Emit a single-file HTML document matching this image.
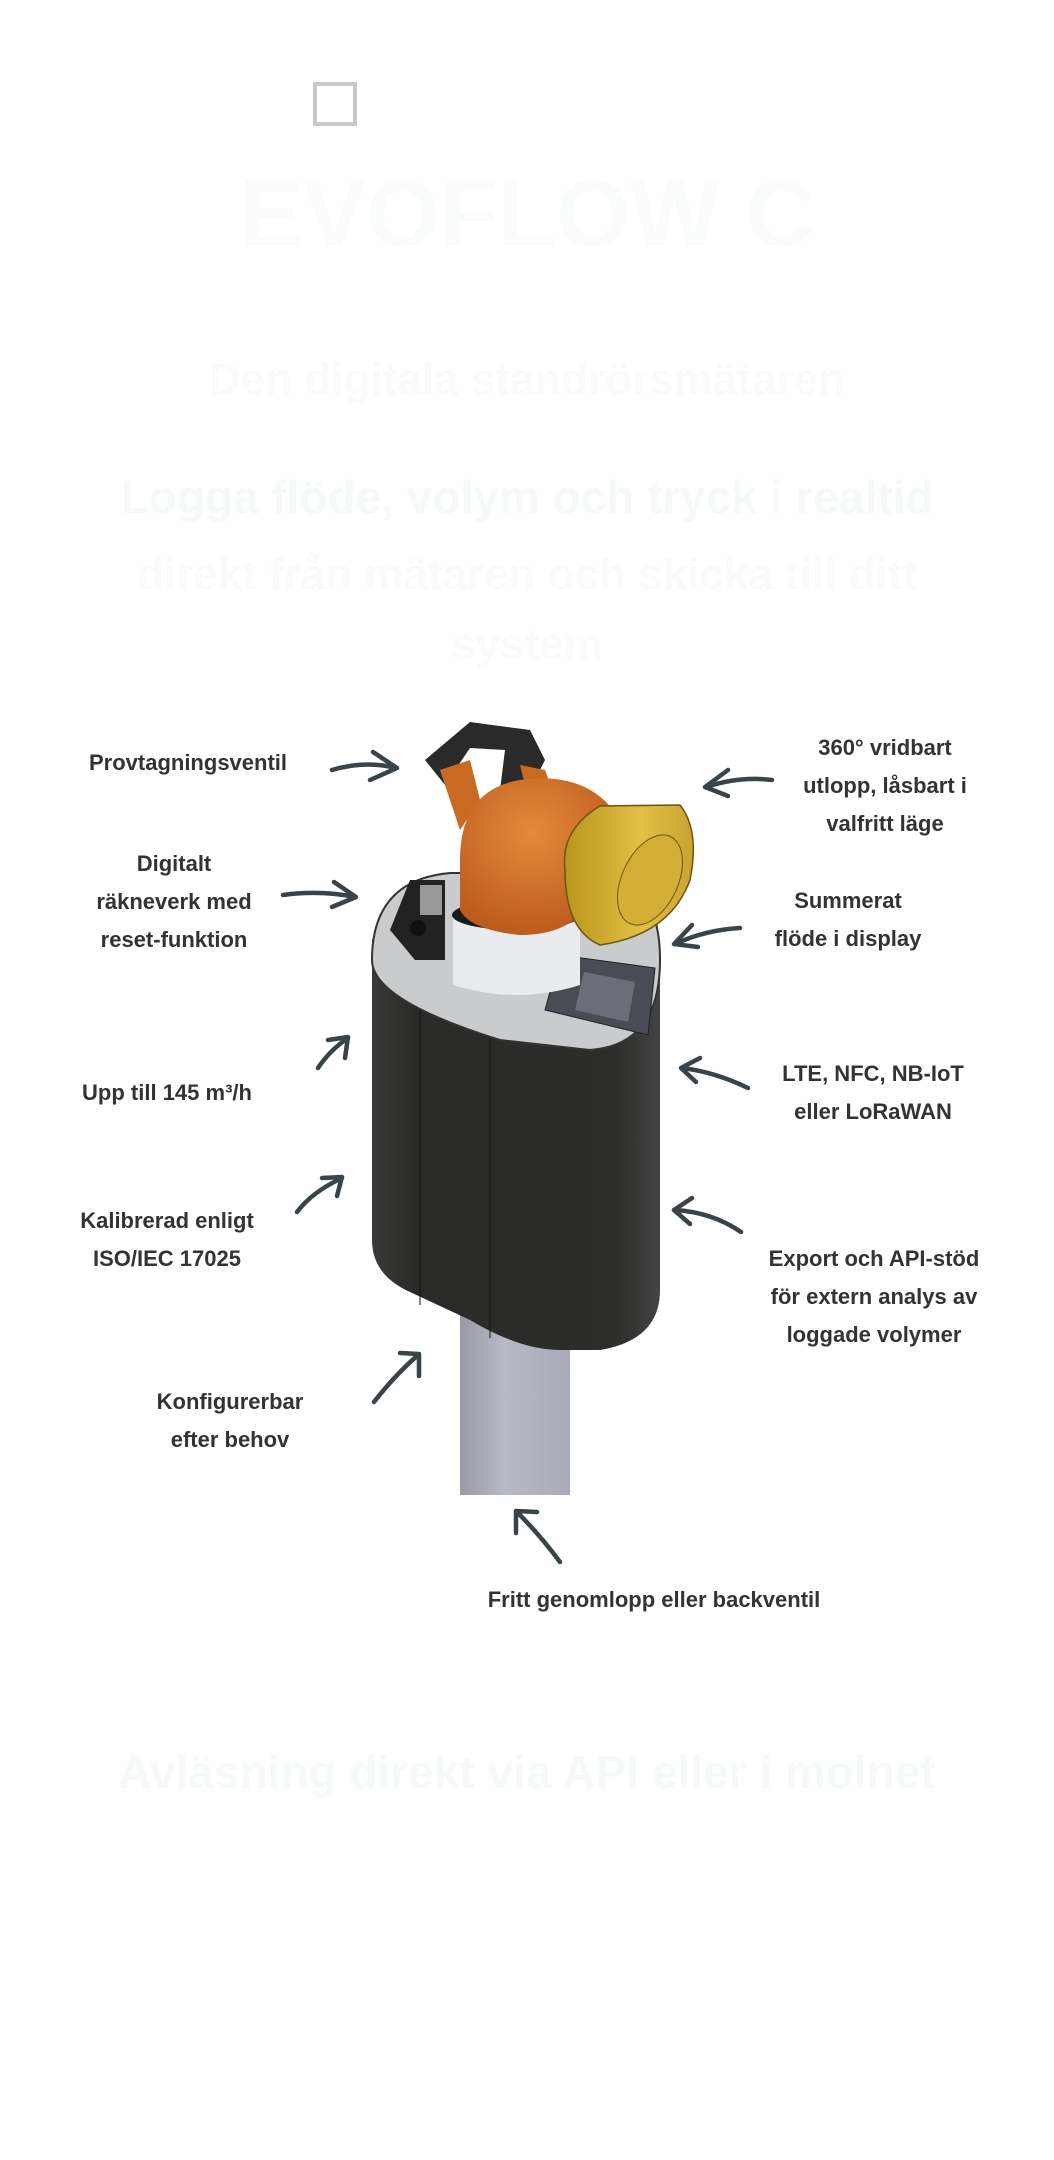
<!DOCTYPE html>
<html><head><meta charset="utf-8"><style>
html,body{margin:0;padding:0;background:#fff}
body{width:1054px;height:2160px;position:relative;overflow:hidden;font-family:"Liberation Sans",sans-serif}
.l{position:absolute;font-weight:bold;color:#333;font-size:22px;line-height:38px;text-align:center;white-space:nowrap;transform:translateX(-50%)}
.f{position:absolute;color:#f9fafa;font-weight:bold;text-align:center;white-space:nowrap;transform:translateX(-50%)}
</style></head><body>
<div style="position:absolute;left:313px;top:82px;width:36px;height:36px;border:4px solid #c8c8c8"></div>
<div class="f" style="left:527px;top:160px;font-size:95px;color:#fafbfb">EVOFLOW C</div>
<div class="f" style="left:527px;top:355px;font-size:44px">Den digitala standrörsmätaren</div>
<div class="f" style="left:527px;top:470px;font-size:46px;color:#f5f9f7">Logga flöde, volym och tryck i realtid</div>
<div class="f" style="left:527px;top:550px;font-size:44px">direkt från mätaren och skicka till ditt</div>
<div class="f" style="left:527px;top:620px;font-size:44px">system</div>
<div class="f" style="left:527px;top:1745px;font-size:46px;color:#f5f9f7">Avläsning direkt via API eller i molnet</div>

<svg width="1054" height="2160" style="position:absolute;left:0;top:0">
<defs>
<linearGradient id="pipe" x1="0" x2="1"><stop offset="0" stop-color="#9a9aa6"/><stop offset="0.4" stop-color="#b8b9c6"/><stop offset="1" stop-color="#a9aab8"/></linearGradient>
<linearGradient id="blk" x1="0" x2="1"><stop offset="0" stop-color="#3a3a38"/><stop offset="0.15" stop-color="#2a2a28"/><stop offset="0.85" stop-color="#2d2d2b"/><stop offset="1" stop-color="#444"/></linearGradient>
<radialGradient id="org" cx="0.45" cy="0.35" r="0.7"><stop offset="0" stop-color="#e58a3c"/><stop offset="1" stop-color="#b8581a"/></radialGradient>
<linearGradient id="brs" x1="0" x2="1"><stop offset="0" stop-color="#b8961c"/><stop offset="0.6" stop-color="#e2bf45"/><stop offset="1" stop-color="#c9a230"/></linearGradient>
</defs>
<rect x="460" y="1300" width="110" height="195" fill="url(#pipe)"/>
<path d="M372 940 L372 1240 Q372 1275 410 1292 L470 1320 Q520 1350 560 1350 L600 1350 Q660 1340 660 1290 L660 940 Z" fill="url(#blk)"/>
<line x1="420" y1="1000" x2="420" y2="1305" stroke="#111" stroke-width="1"/>
<line x1="490" y1="1035" x2="490" y2="1338" stroke="#111" stroke-width="1"/>
<path d="M372 960 Q372 880 450 873 L600 873 Q660 880 660 960 Q660 1045 590 1050 L500 1040 Q372 1000 372 960 Z" fill="#c9cbcc" stroke="#333" stroke-width="2"/>
<path d="M390 930 L410 880 L445 880 L445 960 L415 960 Z" fill="#222"/>
<circle cx="418" cy="928" r="8" fill="#111"/>
<rect x="420" y="885" width="22" height="30" fill="#999"/>
<path d="M545 1010 L560 955 L655 968 L648 1035 Z" fill="#4a4c55" stroke="#222"/>
<path d="M575 1010 L584 972 L635 982 L628 1022 Z" fill="#6b6d78"/>
<path d="M453 915 L580 915 L580 985 Q517 1005 453 985 Z" fill="#e9ebef"/>
<ellipse cx="516" cy="915" rx="64" ry="15" fill="#1a1a1a"/>
<path d="M425 760 L470 722 L530 730 L545 760 L530 790 L500 790 L505 750 L470 748 L445 785 Z" fill="#2a2a2a"/>
<path d="M440 770 L470 760 L480 800 L460 830 Z" fill="#c86a22"/>
<path d="M520 765 L545 770 L560 810 L530 805 Z" fill="#c86a22"/>
<path d="M460 910 L460 860 Q460 790 520 780 Q590 770 620 820 L600 880 Q585 935 520 935 Q470 930 460 910 Z" fill="url(#org)"/>
<path d="M565 870 Q560 830 600 806 L680 805 Q700 830 690 880 Q670 935 600 945 Q565 930 565 870 Z" fill="url(#brs)" stroke="#6b5510" stroke-width="1.5"/>
<ellipse cx="650" cy="880" rx="28" ry="48" transform="rotate(25 650 880)" fill="#d4ad36" stroke="#6b5510"/>
<g fill="none" stroke="#3a4448" stroke-width="4.5" stroke-linecap="round" stroke-linejoin="round">
<path d="M332 770 Q365 760 396 768"/><path d="M373 752 L397 768 L370 780"/>
<path d="M772 780 Q740 776 706 787"/><path d="M728 770 L705 787 L728 796"/>
<path d="M283 895 Q320 890 355 897"/><path d="M334 882 L356 897 L332 907"/>
<path d="M740 928 Q705 930 675 944"/><path d="M692 925 L674 944 L698 947"/>
<path d="M318 1068 Q330 1050 348 1038"/><path d="M328 1040 L348 1037 L345 1058"/>
<path d="M748 1088 Q715 1072 682 1068"/><path d="M700 1058 L681 1068 L696 1082"/>
<path d="M297 1212 Q312 1192 342 1178"/><path d="M322 1178 L342 1177 L337 1196"/>
<path d="M741 1232 Q712 1212 674 1210"/><path d="M692 1198 L674 1210 L690 1224"/>
<path d="M374 1402 Q395 1375 418 1355"/><path d="M400 1353 L419 1354 L419 1376"/>
<path d="M560 1562 Q540 1535 517 1512"/><path d="M516 1533 L516 1511 L537 1512"/>
</g>
</svg>

<div class="l" style="left:188px;top:744px">Provtagningsventil</div>
<div class="l" style="left:885px;top:729px">360° vridbart<br>utlopp, låsbart i<br>valfritt läge</div>
<div class="l" style="left:174px;top:845px">Digitalt<br>räkneverk med<br>reset-funktion</div>
<div class="l" style="left:848px;top:882px">Summerat<br>flöde i display</div>
<div class="l" style="left:167px;top:1074px">Upp till 145 m³/h</div>
<div class="l" style="left:873px;top:1055px">LTE, NFC, NB-IoT<br>eller LoRaWAN</div>
<div class="l" style="left:167px;top:1202px">Kalibrerad enligt<br>ISO/IEC 17025</div>
<div class="l" style="left:874px;top:1240px">Export och API-stöd<br>för extern analys av<br>loggade volymer</div>
<div class="l" style="left:230px;top:1383px">Konfigurerbar<br>efter behov</div>
<div class="l" style="left:654px;top:1581px">Fritt genomlopp eller backventil</div>
</body></html>
